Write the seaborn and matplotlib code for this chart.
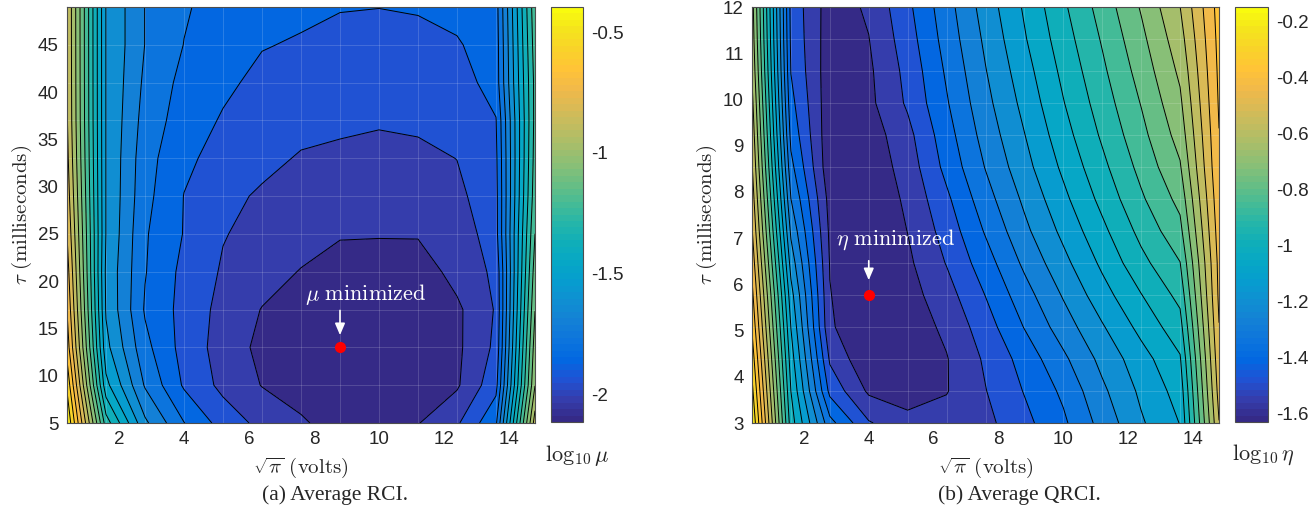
import numpy as np
import matplotlib
matplotlib.use("Agg")
import matplotlib.pyplot as plt
import seaborn as sns
from matplotlib.colors import ListedColormap, Normalize
from matplotlib.cm import ScalarMappable

# sweep grid (sqrt(pi) in volts, tau in ms)
volts = [0.4, 1.6, 2.8, 4.0, 5.2, 6.4, 7.6, 8.8, 10.0, 11.2, 12.4, 13.6, 14.8]
tau_rci = [5, 9, 13, 17, 21, 25, 29, 33, 37, 41, 45, 49]
tau_qrci = [3.0, 3.692, 4.385, 5.077, 5.769, 6.462, 7.154, 7.846, 8.538, 9.231,
            9.923, 10.615, 11.308, 12.0]

# log10 of average RCI, one row per tau value
log_mu = [
    [-0.396, -1.256, -1.608, -1.786, -1.904, -1.976, -2.022, -2.075, -2.067, -2.038, -1.964, -1.802, -0.847],
    [-0.494, -1.436, -1.715, -1.881, -1.974, -2.037, -2.075, -2.096, -2.096, -2.083, -2.045, -1.897, -0.971],
    [-0.593, -1.518, -1.764, -1.901, -1.987, -2.055, -2.091, -2.116, -2.108, -2.096, -2.051, -1.935, -1.010],
    [-0.644, -1.551, -1.797, -1.898, -1.978, -2.037, -2.075, -2.100, -2.100, -2.091, -2.050, -1.945, -1.053],
    [-0.683, -1.559, -1.784, -1.893, -1.961, -2.001, -2.038, -2.075, -2.079, -2.079, -2.005, -1.936, -1.092],
    [-0.724, -1.545, -1.780, -1.874, -1.948, -1.977, -2.001, -2.026, -2.028, -2.027, -2.010, -1.899, -1.133],
    [-0.756, -1.545, -1.764, -1.872, -1.928, -1.964, -1.981, -1.993, -1.997, -1.993, -1.973, -1.895, -1.166],
    [-0.781, -1.545, -1.756, -1.854, -1.899, -1.928, -1.960, -1.969, -1.977, -1.973, -1.951, -1.887, -1.182],
    [-0.797, -1.545, -1.739, -1.829, -1.878, -1.903, -1.924, -1.936, -1.944, -1.936, -1.919, -1.874, -1.191],
    [-0.801, -1.545, -1.723, -1.813, -1.854, -1.891, -1.907, -1.919, -1.928, -1.924, -1.911, -1.833, -1.191],
    [-0.803, -1.545, -1.708, -1.790, -1.838, -1.866, -1.878, -1.895, -1.903, -1.899, -1.878, -1.829, -1.174],
    [-0.804, -1.545, -1.708, -1.780, -1.821, -1.838, -1.854, -1.866, -1.869, -1.862, -1.846, -1.821, -1.158],
]

# log10 of average QRCI, one row per tau value
log_eta = [
    [-0.147, -0.960, -1.325, -1.484, -1.540, -1.533, -1.510, -1.440, -1.362, -1.253, -1.146, -1.064, -0.503],
    [-0.197, -0.996, -1.440, -1.573, -1.593, -1.565, -1.493, -1.416, -1.335, -1.222, -1.123, -1.038, -0.473],
    [-0.246, -1.031, -1.501, -1.622, -1.604, -1.565, -1.480, -1.392, -1.293, -1.187, -1.095, -1.003, -0.451],
    [-0.296, -1.068, -1.551, -1.625, -1.600, -1.547, -1.452, -1.346, -1.243, -1.144, -1.045, -0.953, -0.432],
    [-0.338, -1.109, -1.558, -1.632, -1.590, -1.519, -1.418, -1.307, -1.201, -1.095, -0.998, -0.904, -0.416],
    [-0.381, -1.165, -1.565, -1.631, -1.575, -1.487, -1.381, -1.264, -1.158, -1.052, -0.946, -0.856, -0.409],
    [-0.423, -1.222, -1.575, -1.628, -1.560, -1.462, -1.342, -1.225, -1.119, -1.013, -0.904, -0.805, -0.395],
    [-0.458, -1.278, -1.587, -1.621, -1.547, -1.434, -1.307, -1.194, -1.084, -0.975, -0.865, -0.762, -0.381],
    [-0.494, -1.328, -1.611, -1.611, -1.530, -1.399, -1.275, -1.162, -1.052, -0.943, -0.833, -0.720, -0.367],
    [-0.522, -1.370, -1.611, -1.600, -1.512, -1.378, -1.250, -1.139, -1.024, -0.914, -0.805, -0.685, -0.361],
    [-0.550, -1.399, -1.607, -1.579, -1.480, -1.356, -1.229, -1.116, -0.999, -0.890, -0.780, -0.656, -0.352],
    [-0.579, -1.422, -1.604, -1.574, -1.469, -1.339, -1.211, -1.095, -0.978, -0.868, -0.755, -0.628, -0.345],
    [-0.600, -1.434, -1.600, -1.563, -1.452, -1.321, -1.194, -1.073, -0.957, -0.847, -0.731, -0.600, -0.338],
    [-0.614, -1.441, -1.597, -1.551, -1.436, -1.307, -1.176, -1.057, -0.937, -0.825, -0.706, -0.572, -0.331],
]

rci_best = (8.8, 13)
qrci_best = (4.0, 5.769)

cbar_ticks_mu = [-2, -1.5, -1, -0.5]
cbar_labels_mu = ["-2", "-1.5", "-1", "-0.5"]
cbar_ticks_eta = [-1.6, -1.4, -1.2, -1.0, -0.8, -0.6, -0.4, -0.2]
cbar_labels_eta = ["-1.6", "-1.4", "-1.2", "-1", "-0.8", "-0.6", "-0.4", "-0.2"]

# MATLAB parula, every third entry of the 64-colour table
parula_anchors = [
    (0.2081, 0.1663, 0.5292), (0.2081, 0.2386, 0.6771), (0.1253, 0.3242, 0.8303),
    (0.0060, 0.4086, 0.8828), (0.0498, 0.4586, 0.8641), (0.0779, 0.5040, 0.8384),
    (0.0641, 0.5570, 0.8240), (0.0265, 0.6137, 0.8135), (0.0228, 0.6535, 0.7768),
    (0.0590, 0.6838, 0.7254), (0.1453, 0.7098, 0.6646), (0.2586, 0.7317, 0.5954),
    (0.3953, 0.7459, 0.5244), (0.5300, 0.7491, 0.4661), (0.6473, 0.7456, 0.4188),
    (0.7525, 0.7384, 0.3768), (0.8507, 0.7299, 0.3360), (0.9450, 0.7261, 0.2886),
    (0.9990, 0.7653, 0.2164), (0.9789, 0.8271, 0.1633), (0.9589, 0.8949, 0.1132),
    (0.9763, 0.9831, 0.0538),
]
parula = ListedColormap(sns.blend_palette(parula_anchors, n_colors=64))

sns.set_style("ticks")
plt.rcParams["font.family"] = ["Liberation Sans", "DejaVu Sans"]
plt.rcParams["mathtext.fontset"] = "cm"
plt.rcParams["axes.unicode_minus"] = False
plt.rcParams["contour.negative_linestyle"] = "solid"

W, H = 1314, 515
fig = plt.figure(figsize=(W / 100, H / 100), dpi=100)


def box(x0, y0, x1, y1):
    # pixel box (top-left origin) -> figure fraction
    return [x0 / W, 1 - y1 / H, (x1 - x0) / W, (y1 - y0) / H]


def panel(ax, cax, x, y, z, yticks, cticks, clabels):
    z = np.array(z)
    lv = np.linspace(z.min(), z.max(), 22)
    norm = Normalize(lv[0], lv[-1])
    cols = [parula(norm(v)) for v in lv[:-1]]
    ax.contourf(x, y, z, levels=lv, colors=cols, zorder=1)
    for xv in x:
        ax.axvline(xv, color="white", lw=0.6, alpha=0.18, zorder=1.5)
    for yv in y:
        ax.axhline(yv, color="white", lw=0.6, alpha=0.18, zorder=1.5)
    ax.contour(x, y, z, levels=lv[1:-1], colors="k", linewidths=0.7,
               linestyles="solid", zorder=2)
    ax.set_xlim(x[0], x[-1])
    ax.set_ylim(y[0], y[-1])
    ax.set_xticks([2, 4, 6, 8, 10, 12, 14])
    ax.set_yticks(yticks)
    ax.tick_params(direction="in", top=True, right=True, length=4, width=0.7,
                   labelsize=13.5, colors="#262626", pad=6)
    for s in ax.spines.values():
        s.set_color("#4d4d4d")
        s.set_linewidth(0.8)
    ax.set_xlabel(r"$\sqrt{\pi}\ \mathrm{(volts)}$", fontsize=15, va="center")
    ax.set_ylabel(r"$\tau\ \mathrm{(milliseconds)}$", fontsize=15, va="center")
    ax.xaxis.set_label_coords(0.5, -0.108)
    ax.yaxis.set_label_coords(-0.096, 0.5)

    sm = ScalarMappable(norm=norm, cmap=parula)
    cb = fig.colorbar(sm, cax=cax, ticks=cticks)
    cb.ax.set_yticklabels(clabels)
    cb.outline.set_edgecolor("#4d4d4d")
    cb.outline.set_linewidth(0.8)
    cax.tick_params(direction="in", length=4, width=0.7, labelsize=13.5,
                    colors="#262626", pad=6)


ax1 = fig.add_axes(box(67, 7, 535, 423))
cax1 = fig.add_axes(box(551, 7, 583, 422))
panel(ax1, cax1, volts, tau_rci, log_mu, [5, 10, 15, 20, 25, 30, 35, 40, 45],
      cbar_ticks_mu, cbar_labels_mu)

ax2 = fig.add_axes(box(752, 7, 1219, 423))
cax2 = fig.add_axes(box(1235, 7, 1268, 422))
panel(ax2, cax2, volts, tau_qrci, log_eta, list(range(3, 13)),
      cbar_ticks_eta, cbar_labels_eta)

# minimum markers
ax1.plot(*rci_best, "o", color="red", ms=7, mec="red", zorder=5)
ax1.annotate("", xy=(8.8, 14.0), xytext=(8.8, 17.2), zorder=5,
             arrowprops=dict(arrowstyle="-|>,head_length=0.7,head_width=0.3",
                             color="white", lw=1.2))
ax1.text(9.6, 18.6, r"$\mu\ \mathrm{minimized}$", color="white", fontsize=16,
         ha="center", va="center", zorder=5)

ax2.plot(*qrci_best, "o", color="red", ms=7, mec="red", zorder=5)
ax2.annotate("", xy=(4.0, 6.03), xytext=(4.0, 6.57), zorder=5,
             arrowprops=dict(arrowstyle="-|>,head_length=0.7,head_width=0.3",
                             color="white", lw=1.2))
ax2.text(4.83, 6.96, r"$\eta\ \mathrm{minimized}$", color="white", fontsize=16,
         ha="center", va="center", zorder=5)

fig.text(577 / W, 1 - 455 / H, r"$\log_{10}\mu$", fontsize=16, ha="center", va="center")
fig.text(1263 / W, 1 - 455 / H, r"$\log_{10}\eta$", fontsize=16, ha="center", va="center")

fig.text(335 / W, 1 - 495 / H, "(a) Average RCI.", family="Liberation Serif",
         fontsize=15.5, ha="center", va="center")
fig.text(1019 / W, 1 - 495 / H, "(b) Average QRCI.", family="Liberation Serif",
         fontsize=15.5, ha="center", va="center")

fig.savefig("out.png", dpi=100)
